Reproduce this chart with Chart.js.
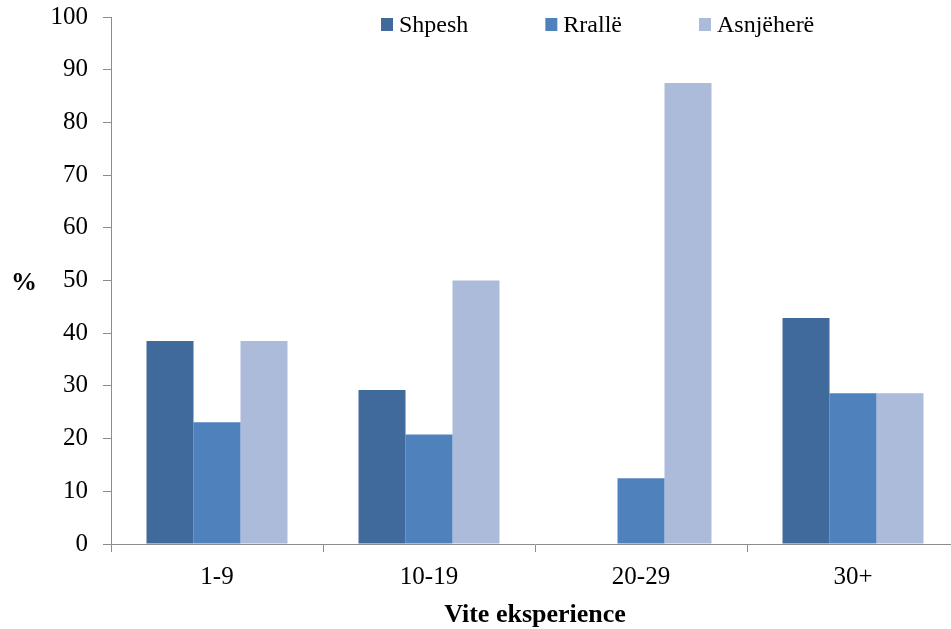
<!DOCTYPE html>
<html>
<head>
<meta charset="utf-8">
<script src="https://cdn.jsdelivr.net/npm/chart.js@4.4.1/dist/chart.umd.min.js"></script>
<style>
  html, body { margin: 0; padding: 0; background: #ffffff; overflow: hidden; }
  #wrap { position: relative; width: 960px; height: 629px; }
</style>
</head>
<body>
<div id="wrap"><canvas id="chart" width="960" height="629"></canvas></div>
<script>
// Experience bands and the share (%) of answers in each
const categories = ['1-9', '10-19', '20-29', '30+'];
const shpesh    = [38.5, 29.2, 0, 42.9];
const rralle    = [23.1, 20.8, 12.5, 28.6];
const asnjehere = [38.5, 50.0, 87.5, 28.6];
const seriesNames = ['Shpesh', 'Rrallë', 'Asnjëherë'];
const yTicks = { min: 0, max: 100, step: 10 };

const FONT = "'Times New Roman', 'Liberation Serif', serif";
const AXIS_GREY = '#8c8c8c';
const colors = ['#3f6a9b', '#4f81bd', '#abbbd9'];

// Legend drawn inside the plot area, top right of centre
const legendPlugin = {
  id: 'insideLegend',
  afterDraw(chart) {
    const ctx = chart.ctx;
    ctx.save();
    ctx.font = '24px ' + FONT;
    ctx.textBaseline = 'middle';
    let x = 381;
    const yMid = 25;
    chart.data.datasets.forEach(ds => {
      ctx.fillStyle = ds.backgroundColor;
      ctx.fillRect(x, yMid - 7, 12, 13);
      ctx.fillStyle = '#000';
      ctx.textAlign = 'left';
      const tx = x + 18;
      ctx.fillText(ds.label, tx, yMid + 1);
      x = tx + ctx.measureText(ds.label).width + 77;
    });
    ctx.restore();
  }
};

// Horizontal "%" axis caption left of the value axis
const percentTitle = {
  id: 'percentTitle',
  afterDraw(chart) {
    const ctx = chart.ctx;
    const y = chart.scales.y;
    ctx.save();
    ctx.font = 'bold 26px ' + FONT;
    ctx.fillStyle = '#000';
    ctx.textAlign = 'center';
    ctx.textBaseline = 'middle';
    ctx.fillText('%', 24, y.getPixelForValue(50) + 3);
    ctx.restore();
  }
};

new Chart(document.getElementById('chart'), {
  type: 'bar',
  data: {
    labels: categories,
    datasets: [
      { label: seriesNames[0], data: shpesh, backgroundColor: colors[0] },
      { label: seriesNames[1], data: rralle, backgroundColor: colors[1] },
      { label: seriesNames[2], data: asnjehere, backgroundColor: colors[2] }
    ]
  },
  options: {
    responsive: false,
    animation: false,
    devicePixelRatio: 1,
    layout: { padding: { top: 17, right: 1, bottom: 0, left: 0 } },
    datasets: { bar: { categoryPercentage: 0.665, barPercentage: 1.0, borderWidth: 0 } },
    plugins: {
      legend: { display: false },
      tooltip: { enabled: false }
    },
    scales: {
      x: {
        offset: true,
        grid: { display: true, drawOnChartArea: false, drawTicks: true, tickLength: 8, color: AXIS_GREY, offset: true },
        border: { display: true, color: AXIS_GREY, width: 1 },
        ticks: { color: '#000', font: { family: FONT, size: 25 }, padding: 10, maxRotation: 0 },
        title: { display: true, text: 'Vite eksperience', color: '#000', font: { family: FONT, size: 26, weight: 'bold' }, padding: { top: 4, bottom: -2 } },
        afterFit(scale) { scale.height = 85; }
      },
      y: {
        min: yTicks.min,
        max: yTicks.max,
        grid: { display: true, drawOnChartArea: false, drawTicks: true, tickLength: 8, color: AXIS_GREY },
        border: { display: true, color: AXIS_GREY, width: 1 },
        ticks: { stepSize: yTicks.step, color: '#000', font: { family: FONT, size: 25 }, padding: 15 },
        afterFit(scale) {
          scale.width = 111;
          scale.paddingTop = 0;
          scale.paddingBottom = 0;
        }
      }
    }
  },
  plugins: [legendPlugin, percentTitle]
});
</script>
</body>
</html>
